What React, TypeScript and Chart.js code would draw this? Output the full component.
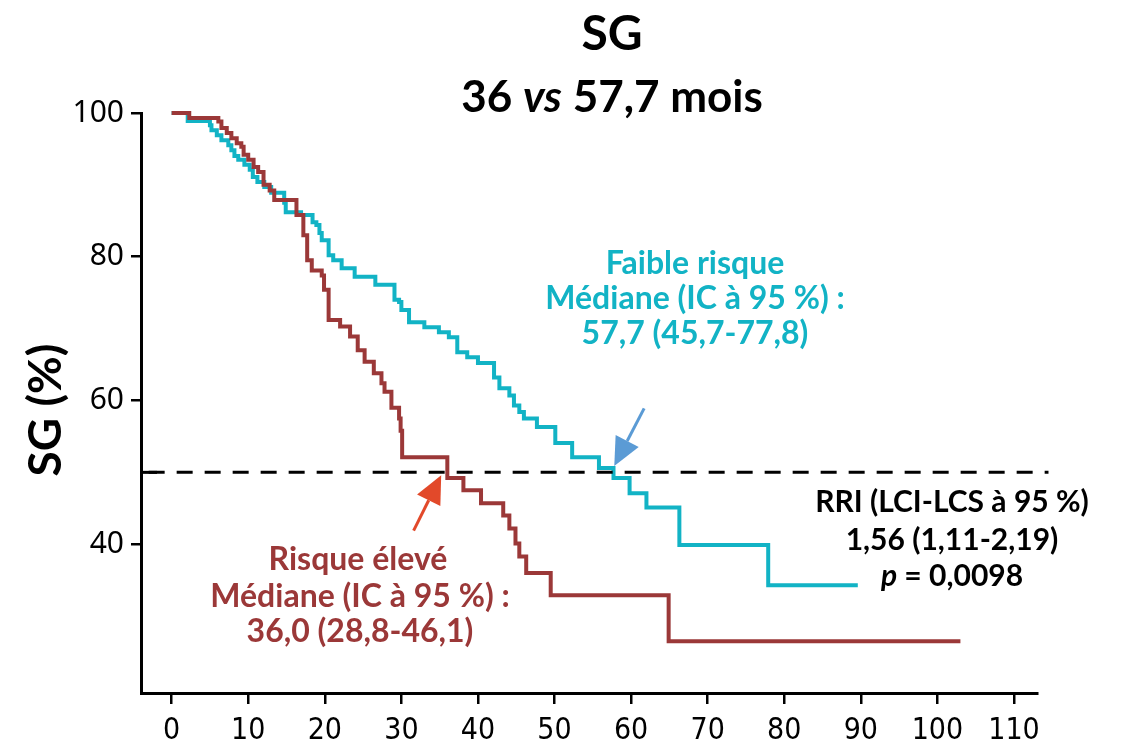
import React, { useEffect, useRef } from "react";
import { Chart, registerables } from "chart.js";
Chart.register(...registerables);

const xTicks = [0, 10, 20, 30, 40, 50, 60, 70, 80, 90, 100, 110];
const yTicks = [40, 60, 80, 100];

const highRiskTime = [0, 2.3, 6.1, 6.5, 7.2, 7.8, 8.5, 9.1, 9.4, 10.0, 10.7, 11.3, 12.0, 12.8, 13.4, 16.3, 17.2, 17.7, 18.3, 19.6, 19.9, 20.5, 22.0, 23.3, 24.3, 25.2, 26.4, 27.4, 27.8, 28.7, 29.7, 29.9, 30.1, 36.0, 38.1, 40.4, 43.3, 44.1, 44.9, 45.4, 46.3, 49.5, 64.9, 103.0];
const highRiskSurv = [100, 99.3, 98.8, 97.9, 97.2, 96.5, 95.8, 95.3, 94.2, 93.5, 92.5, 91.8, 90.0, 89.2, 87.9, 85.8, 83.0, 79.5, 78.1, 77.4, 75.4, 71.2, 70.3, 68.9, 67.0, 65.4, 63.8, 62.4, 61.2, 59.0, 57.5, 55.8, 52.1, 49.2, 47.5, 45.7, 44.0, 42.2, 40.1, 38.3, 36.0, 32.9, 26.5, 26.5];

const lowRiskTime = [0, 2.1, 5.0, 5.2, 5.9, 6.5, 7.4, 7.8, 8.2, 8.7, 9.5, 10.2, 10.6, 11.2, 12.1, 13.0, 14.7, 14.9, 16.9, 18.4, 18.9, 19.3, 19.6, 20.5, 21.1, 22.2, 23.9, 26.6, 29.1, 29.7, 30.0, 31.0, 33.0, 34.9, 36.2, 37.3, 38.6, 40.0, 42.1, 42.8, 44.1, 44.7, 45.4, 46.0, 47.7, 50.1, 52.3, 55.8, 57.7, 59.8, 62.0, 66.3, 77.9, 89.6];
const lowRiskSurv = [100, 98.9, 98.3, 97.6, 96.9, 96.2, 95.5, 94.8, 94.0, 93.5, 92.8, 92.1, 91.1, 90.4, 89.7, 88.9, 87.5, 86.2, 85.8, 84.8, 84.4, 83.3, 82.3, 80.2, 79.5, 78.4, 77.2, 76.1, 74.0, 73.7, 72.6, 70.9, 70.2, 69.5, 68.8, 66.7, 66.0, 65.2, 63.2, 61.7, 60.7, 59.3, 58.4, 57.5, 56.3, 54.1, 52.1, 50.6, 49.2, 47.1, 45.1, 39.9, 34.3, 34.3];

const medianX = [-3, 114.5];
const medianY = [50, 50];

const CYAN = "#12b3c5";
const RED = "#9b3838";
const FONT = "Lato, 'DejaVu Sans', sans-serif";

type Seg = { t: string; italic?: boolean };

function drawMixed(ctx: CanvasRenderingContext2D, segs: Seg[], cx: number, cy: number, size: number, color: string) {
  const fontOf = (s: Seg) => `${s.italic ? "italic " : ""}bold ${size}px ${FONT}`;
  let total = 0;
  const widths = segs.map((s) => {
    ctx.font = fontOf(s);
    const w = ctx.measureText(s.t).width;
    total += w;
    return w;
  });
  let x = cx - total / 2;
  ctx.fillStyle = color;
  ctx.textAlign = "left";
  ctx.textBaseline = "middle";
  segs.forEach((s, i) => {
    ctx.font = fontOf(s);
    ctx.fillText(s.t, x, cy);
    x += widths[i];
  });
}

function arrow(ctx: CanvasRenderingContext2D, x1: number, y1: number, x2: number, y2: number, color: string) {
  const ang = Math.atan2(y2 - y1, x2 - x1);
  const hl = 28;
  const hw = 13;
  const bx = x2 - hl * Math.cos(ang);
  const by = y2 - hl * Math.sin(ang);
  ctx.save();
  ctx.strokeStyle = color;
  ctx.fillStyle = color;
  ctx.lineWidth = 3;
  ctx.beginPath();
  ctx.moveTo(x1, y1);
  ctx.lineTo(bx, by);
  ctx.stroke();
  ctx.beginPath();
  ctx.moveTo(x2, y2);
  ctx.lineTo(bx + hw * Math.sin(ang), by - hw * Math.cos(ang));
  ctx.lineTo(bx - hw * Math.sin(ang), by + hw * Math.cos(ang));
  ctx.closePath();
  ctx.fill();
  ctx.restore();
}

const overlay = {
  id: "overlay",
  afterDraw(chart: any) {
    const ctx: CanvasRenderingContext2D = chart.ctx;
    const xs = chart.scales.x;
    const ys = chart.scales.y;
    ctx.save();
    // inner tick at 50
    ctx.strokeStyle = "#000";
    ctx.lineWidth = 3;
    ctx.beginPath();
    ctx.moveTo(chart.chartArea.left, ys.getPixelForValue(50));
    ctx.lineTo(chart.chartArea.left + 16, ys.getPixelForValue(50));
    ctx.stroke();

    // titles
    drawMixed(ctx, [{ t: "SG" }], 612, 35, 48, "#000");
    drawMixed(ctx, [{ t: "36 " }, { t: "vs", italic: true }, { t: " 57,7 mois" }], 612, 98, 44, "#000");

    // y axis title
    ctx.save();
    ctx.translate(46, 410);
    ctx.rotate(-Math.PI / 2);
    drawMixed(ctx, [{ t: "SG (%)" }], 0, 0, 46, "#000");
    ctx.restore();

    // annotations
    drawMixed(ctx, [{ t: "Faible risque" }], 695, 264, 32, CYAN);
    drawMixed(ctx, [{ t: "Médiane (IC à 95 %) :" }], 695, 299, 32, CYAN);
    drawMixed(ctx, [{ t: "57,7 (45,7-77,8)" }], 695, 334, 32, CYAN);

    drawMixed(ctx, [{ t: "Risque élevé" }], 358, 560, 32, RED);
    drawMixed(ctx, [{ t: "Médiane (IC à 95 %) :" }], 360, 597, 32, RED);
    drawMixed(ctx, [{ t: "36,0 (28,8-46,1)" }], 360, 632, 32, RED);

    drawMixed(ctx, [{ t: "RRI (LCI-LCS à 95 %)" }], 952, 502, 30, "#000");
    drawMixed(ctx, [{ t: "1,56 (1,11-2,19)" }], 952, 540, 30, "#000");
    drawMixed(ctx, [{ t: "p", italic: true }, { t: " = 0,0098" }], 952, 576, 30, "#000");

    // arrows
    arrow(ctx, xs.getPixelForValue(61.7), ys.getPixelForValue(58.9), xs.getPixelForValue(57.8), ys.getPixelForValue(50.9), "#5b9bd5");
    arrow(ctx, xs.getPixelForValue(31.6), ys.getPixelForValue(41.9), xs.getPixelForValue(35.2), ys.getPixelForValue(49.6), "#e2492a");
    ctx.restore();
  },
};

export default function App() {
  const ref = useRef<HTMLCanvasElement>(null);
  useEffect(() => {
    document.body.style.margin = "0";
    const toPts = (xa: number[], ya: number[]) => xa.map((x, i) => ({ x, y: ya[i] }));
    const chart = new Chart(ref.current!, {
      type: "line",
      data: {
        datasets: [
          {
            label: "median",
            data: toPts(medianX, medianY),
            borderColor: "#000",
            borderWidth: 3,
            borderDash: [16, 12],
            pointRadius: 0,
            clip: false as any,
          },
          {
            label: "Risque élevé",
            data: toPts(highRiskTime, highRiskSurv),
            borderColor: RED,
            borderWidth: 4,
            stepped: "before",
            pointRadius: 0,
            clip: false as any,
          },
          {
            label: "Faible risque",
            data: toPts(lowRiskTime, lowRiskSurv),
            borderColor: CYAN,
            borderWidth: 4,
            stepped: "before",
            pointRadius: 0,
            clip: false as any,
          },
        ],
      },
      options: {
        animation: false,
        responsive: false,
        layout: { padding: { top: 113, right: 85, left: 0, bottom: 0 } },
        plugins: { legend: { display: false }, tooltip: { enabled: false }, title: { display: false } },
        scales: {
          x: {
            type: "linear",
            min: -4,
            max: 113,
            afterBuildTicks: (s: any) => {
              s.ticks = xTicks.map((v) => ({ value: v }));
            },
            afterFit: (s: any) => {
              s.height = 47;
            },
            grid: { drawOnChartArea: false, drawTicks: true, tickLength: 11, color: "#000", lineWidth: 2.5 },
            border: { color: "#000", width: 3 },
            ticks: {
              autoSkip: false,
              maxRotation: 0,
              color: "#000",
              padding: 9,
              font: { family: "'Liberation Sans Narrow', 'DejaVu Sans Condensed', sans-serif", size: 30 },
            },
          },
          y: {
            type: "linear",
            min: 19.3,
            max: 100,
            afterBuildTicks: (s: any) => {
              s.ticks = yTicks.map((v) => ({ value: v }));
            },
            afterFit: (s: any) => {
              s.width = 141;
            },
            grid: { drawOnChartArea: false, drawTicks: true, tickLength: 10, color: "#000", lineWidth: 2.5 },
            border: { color: "#000", width: 3 },
            ticks: {
              color: "#000",
              padding: 7,
              font: { family: "'Noto Sans', sans-serif", size: 30 },
            },
          },
        },
      },
      plugins: [overlay],
    });
    return () => chart.destroy();
  }, []);
  return (
    <div style={{ width: 1122, height: 740 }}>
      <canvas ref={ref} width={1122} height={740} style={{ display: "block" }} />
    </div>
  );
}
